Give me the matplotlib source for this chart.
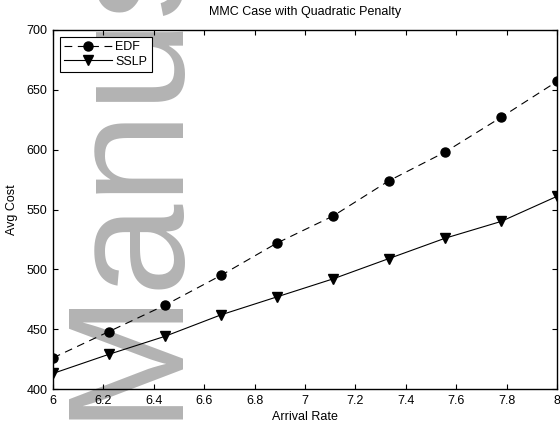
import matplotlib
matplotlib.use('Agg')
import matplotlib.pyplot as plt

# data
arrival_rate = [6.0, 6.222, 6.444, 6.667, 6.889, 7.111, 7.333, 7.556, 7.778, 8.0]
edf_cost = [426, 448, 470, 495, 522, 544.5, 574, 598, 627, 657]
sslp_cost = [413, 429, 444, 462, 477, 492, 509, 526, 540, 561]

x_ticks = [6, 6.2, 6.4, 6.6, 6.8, 7, 7.2, 7.4, 7.6, 7.8, 8]
x_tick_labels = ['6', '6.2', '6.4', '6.6', '6.8', '7', '7.2', '7.4', '7.6', '7.8', '8']
y_ticks = [400, 450, 500, 550, 600, 650, 700]

plt.rcParams['font.family'] = ['Liberation Sans', 'DejaVu Sans']

fig = plt.figure(figsize=(5.6, 4.25), dpi=100)
ax = fig.add_axes([53 / 560, 1 - 389 / 425, 504 / 560, 359 / 425])
ax.patch.set_visible(False)

# gray watermark behind the plot
fig.text(170 / 560, 1 - 419 / 425, 'Manuscript', rotation=90, rotation_mode='anchor',
         ha='left', va='baseline', fontsize=119, color='#b3b3b3', zorder=-1)

ax.plot(arrival_rate, edf_cost, color='black', linestyle='--', dashes=(7, 5), linewidth=0.8,
        marker='o', markersize=6.5, label='EDF')
ax.plot(arrival_rate, sslp_cost, color='black', linestyle='-', linewidth=0.8,
        marker='v', markersize=7, label='SSLP')

ax.set_xlim(6, 8)
ax.set_ylim(400, 700)
ax.set_xticks(x_ticks)
ax.set_xticklabels(x_tick_labels)
ax.set_yticks(y_ticks)
ax.tick_params(direction='in', top=True, right=True, length=3.5, labelsize=9, pad=4)
for s in ax.spines.values():
    s.set_linewidth(1.0)

ax.set_title('MMC Case with Quadratic Penalty', fontsize=9, pad=11)
ax.set_xlabel('Arrival Rate', fontsize=9, labelpad=3)
ax.set_ylabel('Avg Cost', fontsize=9, labelpad=6)

leg = ax.legend(loc='upper left', fontsize=9, fancybox=False, framealpha=1,
                edgecolor='black', handlelength=3.8, borderaxespad=0.55,
                borderpad=0.35, labelspacing=0.2, handletextpad=0.3)
leg.get_frame().set_linewidth(0.8)

fig.savefig('out.png', dpi=100)
